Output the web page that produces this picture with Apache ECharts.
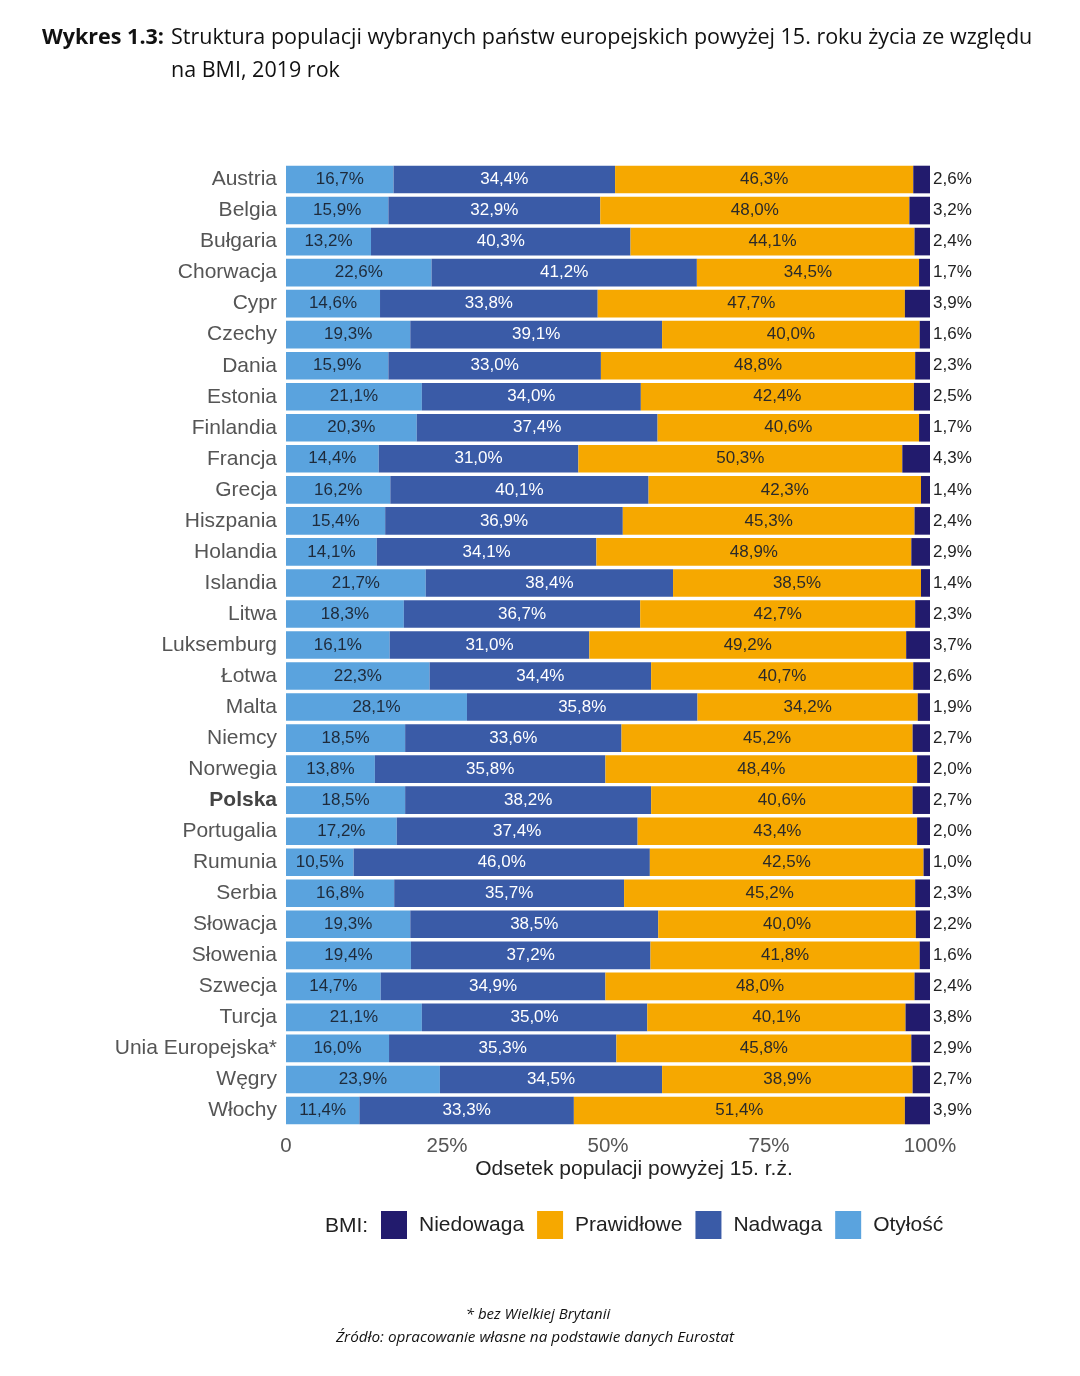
<!DOCTYPE html>
<html><head><meta charset="utf-8">
<script src="https://cdn.jsdelivr.net/npm/echarts@6/dist/echarts.min.js"></script>
<style>html,body{margin:0;padding:0;background:#fff}#c{width:1080px;height:1376px}</style>
</head><body><div id="c"></div>
<script>
const categories = ["Austria","Belgia","Bułgaria","Chorwacja","Cypr","Czechy","Dania","Estonia","Finlandia","Francja","Grecja","Hiszpania","Holandia","Islandia","Litwa","Luksemburg","Łotwa","Malta","Niemcy","Norwegia","Polska","Portugalia","Rumunia","Serbia","Słowacja","Słowenia","Szwecja","Turcja","Unia Europejska*","Węgry","Włochy"];
const otylosc     = [16.7,15.9,13.2,22.6,14.6,19.3,15.9,21.1,20.3,14.4,16.2,15.4,14.1,21.7,18.3,16.1,22.3,28.1,18.5,13.8,18.5,17.2,10.5,16.8,19.3,19.4,14.7,21.1,16.0,23.9,11.4];
const nadwaga     = [34.4,32.9,40.3,41.2,33.8,39.1,33.0,34.0,37.4,31.0,40.1,36.9,34.1,38.4,36.7,31.0,34.4,35.8,33.6,35.8,38.2,37.4,46.0,35.7,38.5,37.2,34.9,35.0,35.3,34.5,33.3];
const prawidlowe  = [46.3,48.0,44.1,34.5,47.7,40.0,48.8,42.4,40.6,50.3,42.3,45.3,48.9,38.5,42.7,49.2,40.7,34.2,45.2,48.4,40.6,43.4,42.5,45.2,40.0,41.8,48.0,40.1,45.8,38.9,51.4];
const niedowaga   = [2.6,3.2,2.4,1.7,3.9,1.6,2.3,2.5,1.7,4.3,1.4,2.4,2.9,1.4,2.3,3.7,2.6,1.9,2.7,2.0,2.7,2.0,1.0,2.3,2.2,1.6,2.4,3.8,2.9,2.7,3.9];
const tickLabels = {0:"0",25:"25%",50:"50%",75:"75%",100:"100%"};

const chart = echarts.init(document.getElementById('c'), null, {renderer:'canvas'});
const fmt = p => p.value.toFixed(1).replace('.', ',') + '%';
const base = "'Liberation Sans', Arial, sans-serif";
function mk(name, data, color, labelColor, pos) {
  return {
    name, type:'bar', stack:'s', data, barCategoryGap:'11%',
    itemStyle:{color},
    label:{show:true, position:pos||'inside', formatter:fmt, color:labelColor, fontSize:17, fontFamily:base, distance:3},
    emphasis:{disabled:true}
  };
}
chart.setOption({
  animation:false,
  backgroundColor:'#fff',
  grid:{left:286, right:150, top:164, bottom:250},
  xAxis:{
    type:'value', min:0, max:100, interval:25,
    axisLine:{show:false}, axisTick:{show:false}, splitLine:{show:false},
    axisLabel:{formatter:v=>tickLabels[v], color:'#555', fontSize:20.5, fontFamily:base, margin:10}
  },
  yAxis:{
    type:'category', data:categories, inverse:true,
    axisLine:{show:false}, axisTick:{show:false},
    axisLabel:{color:'#555', fontSize:21, fontFamily:base, margin:9,
      formatter:v=> v==='Polska' ? '{b|'+v+'}' : v,
      rich:{b:{fontWeight:'bold', color:'#444', fontSize:21, fontFamily:base}}}
  },
  legend:{
    data:['Niedowaga','Prawidłowe','Nadwaga','Otyłość'],
    left:381, top:1211, padding:0, itemWidth:26, itemHeight:28, itemGap:13,
    icon:'rect',
    textStyle:{color:'#222', fontSize:21, fontFamily:base, padding:[0,0,0,7]}
  },
  series:[
    mk('Otyłość', otylosc, '#5AA3DE', '#1e2a3a'),
    mk('Nadwaga', nadwaga, '#3A5BA7', '#ffffff'),
    mk('Prawidłowe', prawidlowe, '#F6A800', '#2a2a2a'),
    mk('Niedowaga', niedowaga, '#221B6D', '#222', 'right')
  ],
  graphic:[
    {type:'text', left:42, top:27, style:{text:'Wykres 1.3:', font:"bold 21.5px 'Open Sans', sans-serif", fill:'#111'}},
    {type:'text', left:171, top:27, style:{text:'Struktura populacji wybranych państw europejskich powyżej 15. roku życia ze względu', font:"21.5px 'Open Sans', sans-serif", fill:'#111'}},
    {type:'text', left:171, top:60, style:{text:'na BMI, 2019 rok', font:"21.5px 'Open Sans', sans-serif", fill:'#111'}},
    {type:'text', x:634, y:1169, style:{text:'Odsetek populacji powyżej 15. r.ż.', font:"21px 'Liberation Sans', Arial, sans-serif", fill:'#222', align:'center', verticalAlign:'middle'}},
    {type:'text', x:325, y:1226, style:{text:'BMI:', font:"21px 'Liberation Sans', Arial, sans-serif", fill:'#222', verticalAlign:'middle'}},
    {type:'text', x:538, y:1315, style:{text:'* bez Wielkiej Brytanii', font:"italic 15px 'Open Sans', sans-serif", fill:'#111', align:'center', verticalAlign:'middle'}},
    {type:'text', x:535, y:1338, style:{text:'Źródło: opracowanie własne na podstawie danych Eurostat', font:"italic 15.3px 'Open Sans', sans-serif", fill:'#111', align:'center', verticalAlign:'middle'}}
  ]
});
</script></body></html>
